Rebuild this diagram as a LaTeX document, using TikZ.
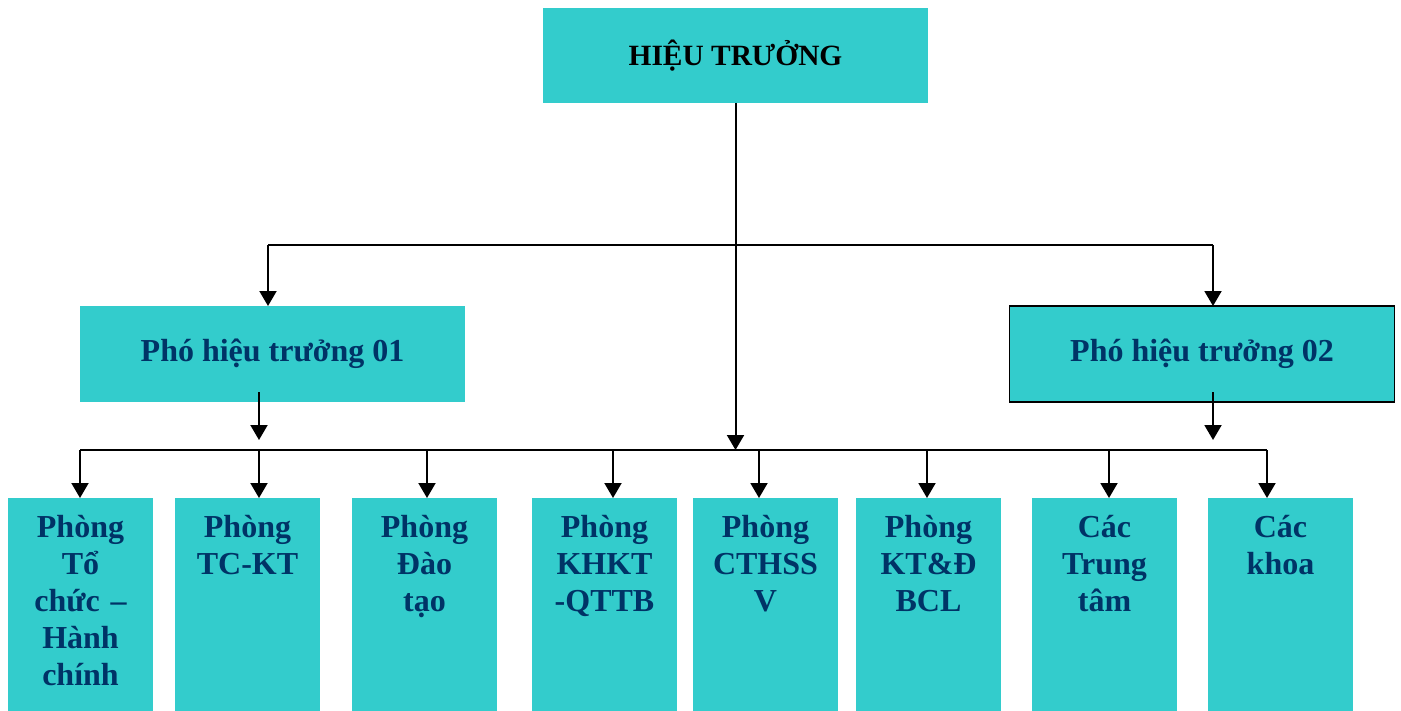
\documentclass[tikz,border=0pt]{standalone}
\usepackage{fontspec}
\setmainfont{Liberation Serif}
\usetikzlibrary{positioning,calc,arrows.meta}
\definecolor{turq}{HTML}{33CCCC}
\definecolor{navy}{HTML}{003366}

\begin{document}
\begin{tikzpicture}[x=0.5pt,y=-0.5pt,
    headnode/.style={rectangle, fill=turq, minimum width=192.5pt, minimum height=48pt, inner sep=0pt, outer sep=0pt, font=\bfseries\fontsize{16}{18.5}\selectfont},
    unitnode/.style={rectangle, fill=turq, inner sep=0pt, outer sep=0pt, text width=72.5pt, align=center, text height=19.5pt, text depth=87pt, text=navy, font=\bfseries\fontsize{16}{18.5}\selectfont},
    arr/.style={-{Triangle[length=7.5pt,width=8.5pt]}, line width=1pt},
    bus/.style={line width=1pt}]

        \useasboundingbox (0,0) rectangle (1401,711);

        \node[headnode, minimum height=47.5pt, font=\bfseries\fontsize{14.7}{18}\selectfont] (ht) at (735.5,55.5) {HIỆU TRƯỞNG};
        \node[headnode, text=navy] (p1) at (272.5,354) {Phó hiệu trưởng 01};
        \node[headnode, text=navy, draw=black, line width=0.75pt] (p2) at (1202,354) {Phó hiệu trưởng 02};

        \node[unitnode, anchor=north west] (b1) at (8,498) {Phòng\\ Tổ\\ chức –\\ Hành\\ chính};
        \node[unitnode] (b2) [right=11pt of b1] {Phòng\\ TC-KT};
        \node[unitnode] (b3) [right=16pt of b2] {Phòng\\ Đào\\ tạo};
        \node[unitnode] (b4) [right=17.5pt of b3] {Phòng\\ KHKT\\ -QTTB};
        \node[unitnode] (b5) [right=8pt of b4] {Phòng\\ CTHSS\\ V};
        \node[unitnode] (b6) [right=9pt of b5] {Phòng\\ KT\&Đ\\ BCL};
        \node[unitnode] (b7) [right=15.5pt of b6] {Các\\ Trung\\ tâm};
        \node[unitnode] (b8) [right=15.5pt of b7] {Các\\ khoa};

        % upper branch
        \coordinate (l) at (268,245);
        \coordinate (r) at (1213,245);
        \draw[bus] (l) -- (r);
        \draw[arr] (l) -- (l |- p1.north);
        \draw[arr] (r) -- (r |- p2.north);

        % lower bus
        \coordinate (d1) at (80,450);
        \coordinate (d2) at (259,450);
        \coordinate (d3) at (427,450);
        \coordinate (d4) at (613,450);
        \coordinate (d5) at (759,450);
        \coordinate (d6) at (927,450);
        \coordinate (d7) at (1109,450);
        \coordinate (d8) at (1267,450);
        \draw[bus] (d1) -- (d8);
        \foreach \i in {1,...,8}
            \draw[arr] (d\i) -- (d\i |- b\i.north);

        \draw[arr] (ht.south) -- (ht.south |- d1);
        \draw[arr] ($(p1.south -| d2)+(0,-10)$) -- ($(d2)+(0,-10)$);
        \draw[arr] ($(p2.south -| r)+(0,-10)$) -- ($(r |- d1)+(0,-10)$);

\end{tikzpicture}
\end{document}
